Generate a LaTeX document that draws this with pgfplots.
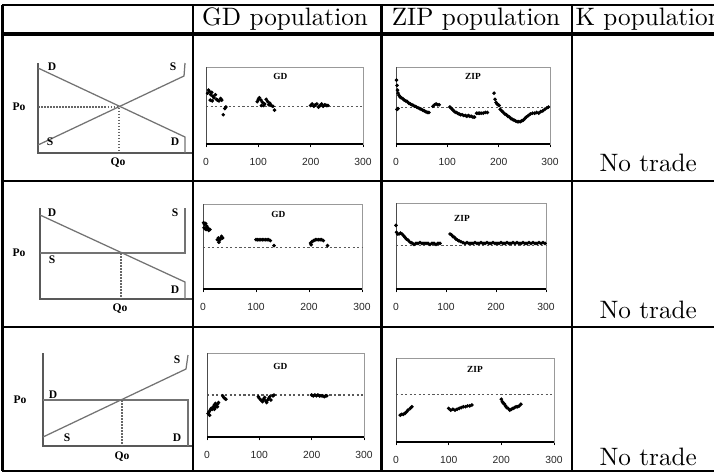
\documentclass[border=0pt]{standalone}
\usepackage{pgfplots}
\pgfplotsset{compat=1.18}
\usepackage{fontspec}
\newfontfamily\arialf{Liberation Sans}
\newfontfamily\timesf{Liberation Serif}
\newcommand\tickfont{\arialf\fontsize{4.1}{4.5}\selectfont}
\newcommand\titlefont{\timesf\bfseries\fontsize{3.7}{4}\selectfont}
\newcommand\labfont{\timesf\bfseries\fontsize{4.6}{5}\selectfont}
\pgfplotsset{
 mini/.style={
   scale only axis, xmin=0,xmax=300,ymin=0,ymax=100,
   axis line style={draw=black!40, line width=0.35pt},
   xtick={0,100,200,300}, ytick=\empty, xtick pos=left, tick align=outside,
   major tick length=1.3pt, tick style={black, line width=0.3pt},
   /pgf/number format/assume math mode=true,
   xticklabel style={font=\tickfont, text=black!85, yshift=-0.7pt},
   anchor=south west, clip=false,
 },
 eq/.style={draw=black!65, line width=0.4pt, dash pattern=on 0.9pt off 0.9pt},
 pts/.style={only marks, mark=*, mark size=0.5pt, black},
 ax/.style={black, line width=0.45pt},
 lax/.style={black!70, line width=0.35pt},
 sd/.style={black!55, line width=0.5pt},
 sdax/.style={black!65, line width=0.65pt},
 dt/.style={black!60, line width=0.45pt, dash pattern=on 0.6pt off 0.6pt},
}
\begin{document}
\begin{tikzpicture}[x=0.397pt,y=0.397pt]
\path[use as bounding box] (0,0) rectangle (714,472);
\clip (0,0) rectangle (714,472);

% ---------- supply / demand diagrams ----------
\begin{axis}[at={(0pt,0pt)}, anchor=south west, scale only axis,
  width=283.458pt, height=187.384pt, xmin=0, xmax=714, ymin=0, ymax=472,
  axis lines=none, clip=false]
% row 1
\addplot[sdax] coordinates {(38,409) (38,319) (192,319)};
\addplot[sd] coordinates {(38,404) (185,335) (185,319)};
\addplot[sd] coordinates {(38,327) (184,396) (185,409)};
\addplot[dt] coordinates {(38,365) (119,365) (119,319)};
\node[font=\labfont] at (axis cs:52,405) {D};
\node[font=\labfont] at (axis cs:173,405) {S};
\node[font=\labfont] at (axis cs:19,365) {Po};
\node[font=\labfont] at (axis cs:50,330) {S};
\node[font=\labfont] at (axis cs:175,330) {D};
\node[font=\labfont] at (axis cs:118,309) {Qo};
% row 2
\addplot[sdax] coordinates {(40,264) (40,173) (192,173)};
\addplot[sd] coordinates {(40,257) (185,190) (185,173)};
\addplot[sd] coordinates {(40,219) (185,219) (185,264)};
\addplot[dt] coordinates {(121,219) (121,173)};
\node[font=\labfont] at (axis cs:52,259) {D};
\node[font=\labfont] at (axis cs:175,259) {S};
\node[font=\labfont] at (axis cs:19,219) {Po};
\node[font=\labfont] at (axis cs:52,212) {S};
\node[font=\labfont] at (axis cs:175,182) {D};
\node[font=\labfont] at (axis cs:120,163) {Qo};
% row 3
\addplot[sdax] coordinates {(43,119) (43,26) (192,26)};
\addplot[sd] coordinates {(43,72) (188,72) (188,26)};
\addplot[sd] coordinates {(43,35) (186,103) (188,117)};
\addplot[dt] coordinates {(122,72) (122,26)};
\node[font=\labfont] at (axis cs:53,77) {D};
\node[font=\labfont] at (axis cs:177,112) {S};
\node[font=\labfont] at (axis cs:20,72) {Po};
\node[font=\labfont] at (axis cs:67,34) {S};
\node[font=\labfont] at (axis cs:177,34) {D};
\node[font=\labfont] at (axis cs:122,15) {Qo};
\end{axis}

% ---------- GD row 1 ----------
\begin{axis}[mini, at={(81.78pt,130.22pt)}, width=62.33pt, height=30.57pt]
\addplot[eq] coordinates {(0,49) (300,49)};
\addplot[lax] coordinates {(0,0) (0,100)};
\addplot[ax] coordinates {(0,0) (300,0)};
\addplot[pts] coordinates {(3,66)(5,70)(7,68)(9,64)(11,67)(13,62)(15,60)(18,64)(20,58)(22,57)(25,56)(28,59)(30,57)(8,57)(12,56)(33,38)(36,46)(38,48)
(98,55)(100,58)(102,60)(105,57)(108,54)(110,50)(112,52)(115,58)(118,55)(120,51)(122,53)(125,50)(128,49)(131,44)(106,50)
(200,50)(203,52)(206,49)(209,51)(212,52)(215,48)(218,50)(221,52)(224,49)(227,51)(230,50)(233,50)};
\node[font=\titlefont] at (axis cs:142,88) {GD};
\end{axis}

% ---------- ZIP row 1 ----------
\begin{axis}[mini, at={(157.21pt,130.22pt)}, width=61.14pt, height=30.57pt]
\addplot[eq] coordinates {(0,48) (300,48)};
\addplot[lax] coordinates {(0,0) (0,100)};
\addplot[ax] coordinates {(0,0) (300,0)};
\addplot[pts] coordinates {(1,83)(2,76)(3,70)(4,66)(6,63)(8,61)(10,60)(13,59)(16,57)(19,56)(22,55)(25,53)(28,52)(31,51)(34,50)(37,49)(40,48)(43,47)(46,46)(49,45)(52,44)(55,43)(58,42)(61,41)(64,41)(2,45)(4,46)
(72,49)(75,51)(78,52)(81,51)(84,51)
(105,48)(108,46)(111,44)(114,42)(117,41)(120,40)(123,39)(126,38)(129,38)(132,37)(135,37)(138,36)(141,37)(144,36)(147,36)(150,35)(153,35)
(157,40)(160,40)(163,40)(166,40)(170,40)(174,41)(178,41)
(191,66)(193,58)(195,54)(197,52)(199,51)(201,50)
(203,45)(206,43)(209,41)(212,39)(215,38)(218,36)(221,35)(224,33)(227,32)(230,31)(233,30)(236,29)(239,29)(242,29)(245,30)(248,31)(251,33)(254,35)(258,37)(262,39)(266,40)(270,40)(274,41)(278,40)(282,42)(286,43)(290,45)(294,47)(297,48)};
\node[font=\titlefont] at (axis cs:150,88) {ZIP};
\end{axis}

% ---------- GD row 2 ----------
\begin{axis}[mini, at={(80.59pt,72.65pt)}, width=63.12pt, height=33.75pt]
\addplot[eq] coordinates {(0,49) (300,49)};
\addplot[lax] coordinates {(0,0) (0,100)};
\addplot[ax] coordinates {(0,0) (300,0)};
\addplot[pts] coordinates {(1,78)(3,76)(5,77)(7,74)(2,72)(4,71)(6,70)(9,72)(11,69)(13,70)
(27,58)(29,60)(31,57)(33,59)(35,62)(37,60)(30,55)
(100,58)(103,58)(106,58)(109,58)(112,58)(115,58)(118,58)(121,58)(124,58)(127,57)(134,51)
(203,54)(206,56)(209,57)(212,58)(215,58)(218,58)(221,58)(224,58)(227,57)(204,52)(235,51)};
\node[font=\titlefont] at (axis cs:142,88) {GD};
\end{axis}

% ---------- ZIP row 2 ----------
\begin{axis}[mini, at={(157.21pt,72.65pt)}, width=59.55pt, height=34.14pt]
\addplot[eq] coordinates {(0,51) (300,51)};
\addplot[lax] coordinates {(0,0) (0,100)};
\addplot[ax] coordinates {(0,0) (300,0)};
\addplot[pts] coordinates {(0,74)(1,66)(3,64)(6,64)(9,65)(12,64)(15,62)(18,60)(21,58)(24,57)(27,55)(30,54)(33,53)(36,52)(40,53)(44,53)(48,54)(52,53)(56,53)(60,53)(64,53)(68,52)(72,53)(76,53)(80,52)(84,53)(88,53)
(108,64)(111,63)(114,61)(117,60)(120,58)(123,57)(126,56)(130,55)(134,54)(138,53)(142,54)(146,53)(150,53)(154,53)(158,54)(162,53)(166,53)(170,54)(174,53)(178,53)(182,54)(186,53)(190,53)(194,54)(198,53)(202,53)(206,53)(210,54)(214,53)(218,53)(222,54)(226,53)(230,53)(234,54)(238,53)(242,54)(246,53)(250,53)(254,54)(258,53)(262,53)(266,54)(270,53)(274,54)(278,53)(282,53)(286,54)(290,53)(294,54)(298,53)};
\node[font=\titlefont] at (axis cs:132,82) {ZIP};
\end{axis}

% ---------- GD row 3 ----------
\begin{axis}[mini, at={(82.18pt,13.90pt)}, width=62.33pt, height=33.35pt]
\addplot[eq] coordinates {(0,50) (300,50)};
\addplot[lax] coordinates {(0,0) (0,100)};
\addplot[ax] coordinates {(0,0) (300,0)};
\addplot[pts] coordinates {(2,28)(4,30)(6,32)(8,34)(10,33)(12,36)(14,38)(16,40)(18,38)(20,39)(22,41)(14,33)(16,35)(5,26)(20,36)
(30,49)(32,47)(34,46)(36,45)
(98,48)(100,46)(103,44)(106,42)(108,45)(110,47)(112,43)(114,41)(116,44)(118,46)(120,48)(122,44)(126,49)(128,50)
(200,50)(203,49)(206,50)(209,49)(212,50)(215,49)(218,49)(221,49)(224,48)(227,49)(229,49)};
\node[font=\titlefont] at (axis cs:140,84) {GD};
\end{axis}

% ---------- ZIP row 3 ----------
\begin{axis}[mini, at={(157.21pt,11.91pt)}, width=62.73pt, height=33.35pt]
\addplot[eq] coordinates {(0,57) (300,57)};
\addplot[lax] coordinates {(0,0) (0,100)};
\addplot[ax] coordinates {(0,0) (300,0)};
\addplot[pts] coordinates {(8,32)(11,33)(14,33)(17,34)(20,36)(23,38)(27,40)(30,42)
(100,40)(104,38)(108,39)(112,38)(116,39)(120,40)(124,41)(128,42)(132,42)(136,43)(140,43)(144,44)
(200,51)(202,48)(204,46)(206,45)(208,43)(210,41)(213,40)(216,38)(219,39)(222,40)(225,41)(228,42)(231,42)(234,43)(237,45)};
\node[font=\titlefont] at (axis cs:150,86) {ZIP};
\end{axis}

% ---------- table rules ----------
\draw[line width=0.8pt] (2,467) -- (714,467);
\draw[line width=1.6pt] (2,438) -- (714,438);
\draw[line width=0.8pt] (2,291) -- (714,291);
\draw[line width=0.8pt] (2,145) -- (714,145);
\draw[line width=0.8pt] (2,1) -- (714,1);
\foreach \xx in {2.5,193,381.5,571.5} \draw[line width=0.8pt] (\xx,1) -- (\xx,467);

% ---------- header and text ----------
\node[anchor=base] at (285,446.5) {GD population};
\node[anchor=base] at (476,446.5) {ZIP population};
\node[anchor=base west, inner sep=0pt] at (575,446.5) {K population};
\node[anchor=base west, inner sep=0pt] at (599,301) {No trade};
\node[anchor=base west, inner sep=0pt] at (599,154) {No trade};
\node[anchor=base west, inner sep=0pt] at (599,7) {No trade};
\end{tikzpicture}
\end{document}
